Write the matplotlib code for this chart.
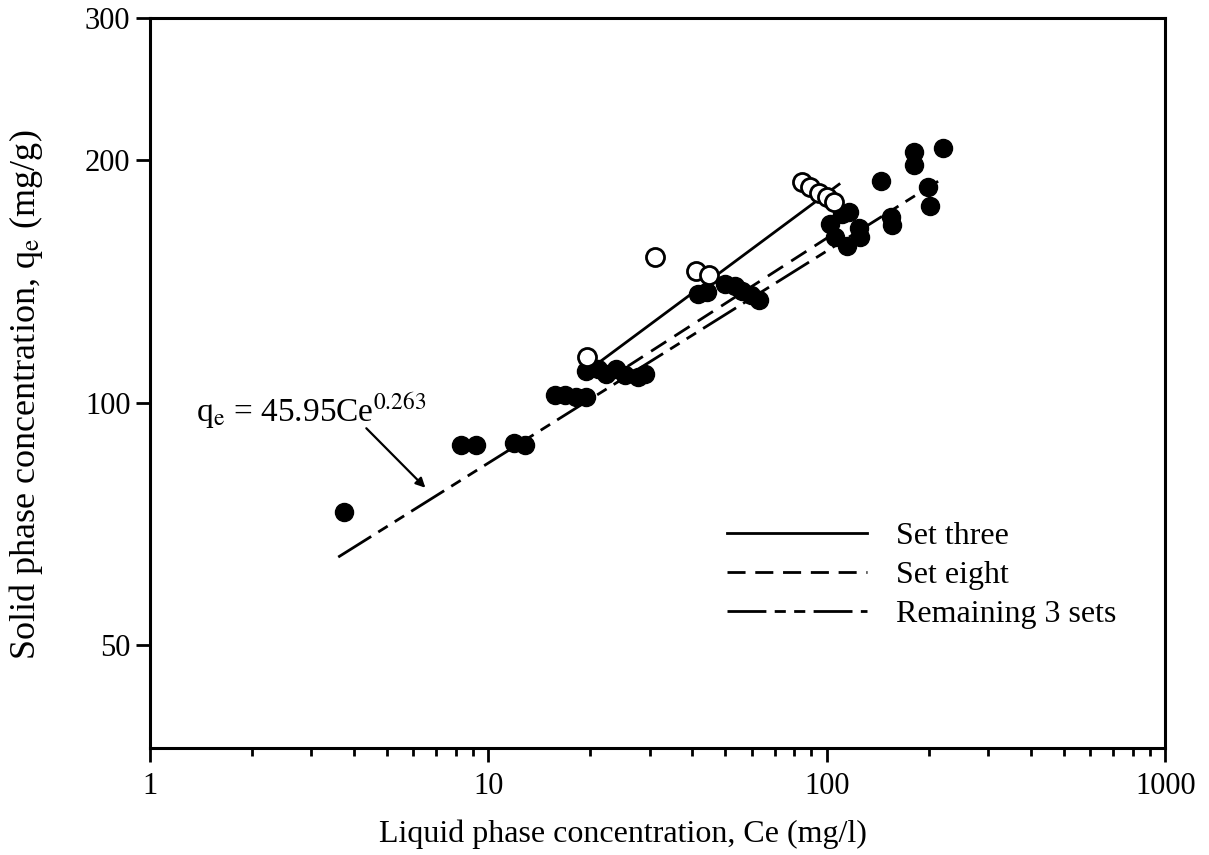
import numpy as np
import matplotlib.pyplot as plt

plt.rcParams['font.family'] = ['Liberation Serif', 'DejaVu Serif']
plt.rcParams['mathtext.fontset'] = 'stix'
plt.rcParams['lines.scale_dashes'] = False

# Set three (open circles)
open_ce = [19.5, 31.0, 40.9, 44.7, 84.4, 89.1, 94.7, 100.0, 104.9]
open_qe = [113.9, 151.4, 145.5, 144.2, 188.0, 185.3, 182.2, 179.7, 177.5]

# Remaining sets (filled circles)
fill_ce = [3.74, 8.27, 9.22, 11.9, 12.8, 15.7, 16.8, 18.2, 19.4, 19.4, 21.1, 22.2,
           23.8, 25.4, 27.6, 29.1, 41.5, 44.1, 50.1, 53.6, 56.2, 59.7, 63.1,
           102.0, 110.7, 116.1, 124.2, 125.0, 114.5, 105.6, 144.1, 180.3, 180.3,
           220.7, 199.5, 200.9, 154.3, 155.3]
fill_qe = [73.2, 88.6, 88.6, 89.1, 88.6, 102.2, 102.2, 101.6, 101.6, 109.4, 110.0, 108.5,
           110.0, 108.2, 107.6, 108.5, 136.3, 137.0, 140.2, 139.4, 137.4, 135.9, 133.9,
           166.4, 171.2, 172.6, 164.9, 160.3, 156.3, 160.3, 188.6, 204.5, 197.2,
           207.2, 184.9, 175.6, 170.1, 165.9]

# fitted isotherm lines
three_ce = [20.5, 108.6]
three_qe = [111.0, 186.6]
eight_ce = [22.0, 108.0]
eight_qe = [106.3, 163.4]
rest_k, rest_n = 45.95, 0.263
rest_ce = np.array([3.6, 213.0])
rest_qe = rest_k * rest_ce ** rest_n

fig = plt.figure(figsize=(12.09, 8.55), dpi=100)
ax = fig.add_axes([0.124, 0.125, 0.84, 0.854])
ax.set_xscale('log')
ax.set_yscale('log')

ax.plot(three_ce, three_qe, color='black', lw=2, ls='-', label='Set three')
ax.plot(eight_ce, eight_qe, color='black', lw=2, ls=(0, (13, 7)), label='Set eight')
ax.plot(rest_ce, rest_qe, color='black', lw=2, ls=(0, (28, 6, 8, 6, 8, 6)),
        label='Remaining 3 sets')

ax.plot(fill_ce, fill_qe, 'o', color='black', ms=13, zorder=3)
ax.plot(open_ce, open_qe, 'o', mfc='white', mec='black', mew=2, ms=13, zorder=4)

ax.set_xlim(1, 1000)
ax.set_ylim(37.3, 300)

ax.set_yticks([50, 100, 200, 300])
ax.set_yticklabels(['50', '100', '200', '300'])
ax.yaxis.set_minor_locator(plt.NullLocator())
ax.set_xticks([1, 10, 100, 1000])
ax.set_xticklabels(['1', '10', '100', '1000'])

ax.tick_params(axis='both', which='major', direction='out', length=10, width=2,
               labelsize=22, pad=4)
ax.tick_params(axis='x', which='major', pad=7)
ax.tick_params(axis='x', which='minor', direction='out', length=6, width=2)
for sp in ax.spines.values():
    sp.set_linewidth(2.2)

ax.set_xlabel('Liquid phase concentration, Ce (mg/l)', fontsize=23)
ax.xaxis.set_label_coords(0.466, -0.098)
ax.set_ylabel(r'Solid phase concentration, q$_\mathrm{e}$ (mg/g)', fontsize=26)
ax.yaxis.set_label_coords(-0.103, 0.484)

ax.text(1.37, 97.5, r'q$_\mathrm{e}$ = 45.95Ce$^{0.263}$', fontsize=24,
        ha='left', va='center')
ax.annotate('', xy=(6.6, 78.0), xytext=(4.3, 93.5),
            arrowprops=dict(arrowstyle='-|>', color='black', lw=1.6,
                            mutation_scale=14))

ax.legend(loc='center left', bbox_to_anchor=(0.568, 0.237), frameon=False,
          fontsize=23, handlelength=4.4, handletextpad=0.9, labelspacing=0.3,
          borderpad=0, borderaxespad=0)

fig.savefig('out.png', dpi=100)
